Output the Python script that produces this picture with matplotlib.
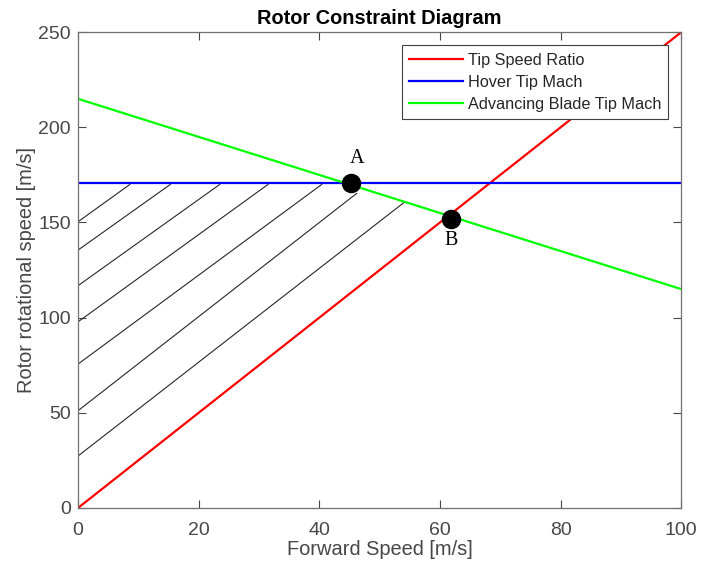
import matplotlib.pyplot as plt
import numpy as np

plt.rcParams['font.family'] = ['Liberation Sans', 'DejaVu Sans']

# data
speed = np.array([0, 100])            # forward speed [m/s]
tip_speed_ratio = np.array([0, 250])  # rotor speed limit from tip speed ratio
hover_mach = np.array([171, 171])
adv_mach = np.array([215, 115])

# hatch lines in the feasible region: start on y axis, end on blue/green line
hatch_y0 = [150.4, 135.5, 116.8, 97.8, 75.6, 51.1, 27.3]
hatch_x1 = [8.6, 15.3, 23.5, 31.5, 40.4, 46.2, 54.2]
hatch_y1 = [170, 170, 170, 170, 170, 165.3, 160.9]

pts_x = [45.3, 61.9]
pts_y = [170.5, 151.6]
pts_lbl = ['A', 'B']
lbl_x = [46.2, 61.9]
lbl_y = [183.5, 140.5]

fig = plt.figure(figsize=(7.03, 5.65), dpi=100)
ax = fig.add_axes([0.111, 0.101, 0.858, 0.842])

for y0, x1, y1 in zip(hatch_y0, hatch_x1, hatch_y1):
    ax.plot([0, x1], [y0, y1], color='#262626', lw=0.8)

ax.plot(speed, tip_speed_ratio, color='#ff0000', lw=1.6, label='Tip Speed Ratio')
ax.plot(speed, hover_mach, color='#0000ff', lw=1.6, label='Hover Tip Mach')
ax.plot(speed, adv_mach, color='#00ff00', lw=1.6, label='Advancing Blade Tip Mach')

ax.plot(pts_x, pts_y, 'o', color='black', ms=13, zorder=5)
for x, y, t in zip(lbl_x, lbl_y, pts_lbl):
    ax.text(x, y, t, family='Liberation Serif', fontsize=14.5,
            ha='center', va='center')

ax.set_xlim(0, 100)
ax.set_ylim(0, 250)
ax.set_xticks(np.arange(0, 101, 20))
ax.set_yticks(np.arange(0, 251, 50))

ax.tick_params(direction='in', top=True, right=True, labelsize=14,
               colors='#474747', length=6, width=0.8, pad=5)
ax.tick_params(axis='x', pad=10)
for s in ax.spines.values():
    s.set_color('#707070')
    s.set_linewidth(0.9)

ax.set_xlabel('Forward Speed [m/s]', fontsize=14.4, color='#474747', labelpad=1)
ax.set_ylabel('Rotor rotational speed [m/s]', fontsize=14.4, color='#474747',
              labelpad=2)
ax.set_title('Rotor Constraint Diagram', fontsize=14.4, fontweight='bold', pad=6)

leg = ax.legend(loc='upper right', fontsize=11.7, fancybox=False, framealpha=1,
                edgecolor='#404040', borderaxespad=0.8, handlelength=3.3,
                handletextpad=0.3, labelspacing=0.45, borderpad=0.45)
leg.get_frame().set_linewidth(0.8)
for t in leg.get_texts():
    t.set_color('#262626')

fig.savefig('out.png', dpi=100)
